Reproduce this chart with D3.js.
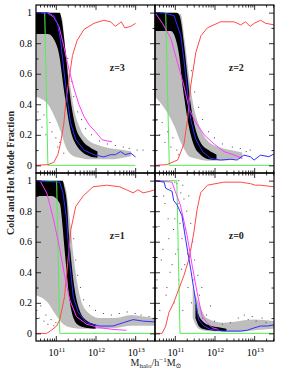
<!DOCTYPE html>
<html>
<head>
<meta charset="utf-8">
<script src="https://cdn.jsdelivr.net/npm/d3@7"></script>
<style>
  body { margin: 0; background: #fff; }
  text { font-family: "Liberation Serif", "DejaVu Serif", serif; }
</style>
</head>
<body>
<div id="chart"></div>
<script>
// values are [log10 Mhalo, fraction]
const redZ3 = [[10.5,0],[10.8,0.005],[10.95,0.02],[11.05,0.07],[11.12,0.145],[11.2,0.27],[11.25,0.41],[11.33,0.56],[11.42,0.72],[11.54,0.82],[11.71,0.89],[11.96,0.93],[12.21,0.95],[12.38,0.94],[12.5,0.91],[12.65,0.94],[12.74,0.9],[12.89,0.91],[13.01,0.93]];
const blueZ3 = [[10.5,1],[10.8,1],[10.95,0.98],[11.04,0.93],[11.12,0.82],[11.2,0.63],[11.29,0.43],[11.37,0.28],[11.5,0.17],[11.71,0.1],[11.96,0.07],[12.21,0.055],[12.38,0.07],[12.5,0.07],[12.63,0.09],[12.75,0.07],[12.89,0.08],[13.01,0.055]];
const magZ3 = [[10.5,1],[10.78,1],[10.95,0.97],[11.08,0.91],[11.2,0.78],[11.33,0.63],[11.46,0.5],[11.58,0.4],[11.71,0.32],[11.84,0.265],[12.0,0.22],[12.17,0.167],[12.29,0.16],[12.42,0.155]];
const greenZ3 = [[10.5,1],[10.72,1],[10.8,0],[13.0,0]];
const coreZ3 = [[10.5,0.86,1],[10.8,0.86,1],[11.0,0.8,1],[11.1,0.7,1],[11.15,0.6,0.95],[11.2,0.5,0.85],[11.27,0.38,0.68],[11.33,0.28,0.52],[11.4,0.2,0.38],[11.5,0.14,0.25],[11.65,0.09,0.17],[11.85,0.06,0.12],[12.05,0.05,0.09]];
const spreadZ3 = [[10.5,0.45,1],[10.8,0.4,1],[11.0,0.3,1],[11.15,0.2,0.97],[11.25,0.12,0.75],[11.35,0.08,0.55],[11.45,0.06,0.38],[11.6,0.05,0.25],[11.8,0.04,0.17],[12.1,0.04,0.13],[12.4,0.04,0.11],[12.7,0.05,0.1],[12.9,0.06,0.09]];
const dotsZ3 = [[10.55,0.35],[10.6,0.3],[10.65,0.25],[10.7,0.33],[10.75,0.2],[10.85,0.28],[10.9,0.22],[11.0,0.18],[11.05,0.12],[11.1,0.15],[11.2,0.08],[11.3,0.7],[11.4,0.55],[11.45,0.45],[11.55,0.35],[11.65,0.3],[11.75,0.24],[11.9,0.2],[12.1,0.16],[12.3,0.14],[12.5,0.13],[12.7,0.12],[12.85,0.11],[13.05,0.1],[13.2,0.1]];

const redZ2 = [[10.5,0],[10.8,0.005],[11.07,0.035],[11.23,0.14],[11.32,0.3],[11.4,0.52],[11.53,0.74],[11.66,0.85],[11.82,0.9],[12.15,0.94],[12.49,0.94],[12.66,0.92],[12.78,0.94],[12.9,0.91],[13.0,0.93],[13.16,0.95],[13.29,0.93],[13.5,0.92]];
const blueZ2 = [[10.5,1],[10.7,1],[10.98,0.98],[11.15,0.85],[11.23,0.69],[11.32,0.48],[11.4,0.3],[11.53,0.17],[11.7,0.09],[11.9,0.046],[12.15,0.035],[12.4,0.04],[12.57,0.035],[12.74,0.067],[12.9,0.057],[13.0,0.035],[13.16,0.067],[13.37,0.057],[13.5,0.075]];
const magZ2 = [[10.5,1],[10.69,0.93],[10.9,0.83],[11.07,0.67],[11.23,0.52],[11.36,0.37],[11.53,0.28],[11.74,0.2],[11.99,0.14],[12.24,0.09],[12.49,0.068],[12.7,0.046]];
const greenZ2 = [[10.5,1],[10.77,1],[10.86,0],[13.5,0]];
const coreZ2 = [[10.5,0.88,1],[10.9,0.88,1],[11.05,0.8,1],[11.12,0.7,0.98],[11.18,0.55,0.9],[11.25,0.42,0.75],[11.32,0.3,0.58],[11.4,0.2,0.4],[11.5,0.12,0.26],[11.65,0.07,0.15],[11.85,0.04,0.1],[12.05,0.035,0.07]];
const spreadZ2 = [[10.5,0.45,1],[10.8,0.35,1],[11.0,0.25,1],[11.15,0.15,0.99],[11.25,0.1,0.82],[11.35,0.06,0.6],[11.45,0.05,0.42],[11.6,0.04,0.27],[11.8,0.03,0.17],[12.1,0.03,0.12],[12.4,0.035,0.1],[12.7,0.045,0.085]];
const dotsZ2 = [[10.55,0.3],[10.62,0.2],[10.68,0.28],[10.75,0.15],[10.82,0.22],[10.9,0.12],[10.95,0.18],[11.05,0.1],[11.1,0.07],[11.42,0.62],[11.5,0.48],[11.6,0.38],[11.7,0.3],[11.85,0.22],[12.0,0.18],[12.2,0.14],[12.45,0.12],[12.65,0.11],[12.8,0.09],[12.9,0.1]];

const redZ1 = [[10.5,0],[10.77,0],[10.86,0.015],[11.02,0.048],[11.1,0.09],[11.22,0.24],[11.3,0.46],[11.38,0.68],[11.5,0.83],[11.69,0.9],[11.94,0.96],[12.28,0.97],[12.61,0.96],[12.78,0.94],[12.95,0.92],[13.07,0.94],[13.2,0.92],[13.37,0.93],[13.5,0.94]];
const blueZ1 = [[10.5,1],[11.1,0.99],[11.18,0.92],[11.27,0.75],[11.35,0.46],[11.44,0.24],[11.56,0.14],[11.77,0.07],[12.11,0.048],[12.44,0.048],[12.7,0.07],[12.95,0.09],[13.2,0.08],[13.5,0.075]];
const magZ1 = [[10.5,1],[10.6,1],[10.77,0.92],[10.94,0.75],[11.1,0.55],[11.22,0.38],[11.35,0.22],[11.52,0.11],[11.77,0.06],[12.11,0.037],[12.44,0.026],[12.78,0.02]];
const greenZ1 = [[10.5,1],[11.02,1],[11.1,0],[13.5,0]];
const coreZ1 = [[10.5,0.9,1],[10.9,0.9,1],[11.1,0.85,1],[11.17,0.7,1],[11.22,0.55,0.95],[11.28,0.38,0.85],[11.33,0.25,0.65],[11.4,0.14,0.45],[11.48,0.08,0.28],[11.6,0.05,0.15],[11.8,0.035,0.08],[12.0,0.03,0.06]];
const spreadZ1 = [[10.5,0.25,1],[10.8,0.2,1],[11.0,0.12,1],[11.15,0.07,1],[11.25,0.05,0.95],[11.35,0.04,0.75],[11.45,0.035,0.5],[11.6,0.03,0.25],[11.8,0.03,0.14],[12.1,0.03,0.1],[12.5,0.035,0.1],[12.9,0.05,0.12],[13.2,0.05,0.11],[13.5,0.05,0.1]];
const dotsZ1 = [[10.52,0.15],[10.58,0.1],[10.62,0.18],[10.7,0.08],[10.75,0.12],[10.8,0.06],[10.88,0.09],[10.95,0.05],[11.0,0.07],[11.45,0.62],[11.5,0.48],[11.55,0.38],[11.62,0.3],[11.7,0.22],[11.85,0.18],[12.0,0.15],[12.2,0.13],[12.4,0.12],[12.6,0.13],[12.8,0.14],[13.0,0.13],[13.15,0.12],[13.35,0.11]];

const redZ0 = [[10.5,0],[10.68,0],[10.77,0.048],[10.85,0.136],[10.97,0.2],[11.1,0.29],[11.23,0.38],[11.36,0.49],[11.48,0.66],[11.56,0.81],[11.65,0.92],[11.82,0.97],[12.23,0.99],[12.66,0.99],[12.91,0.98],[13.03,0.97],[13.16,0.97],[13.33,0.965],[13.5,0.96]];
const blueZ0 = [[10.5,1],[10.73,0.99],[10.77,0.95],[10.85,0.94],[10.93,0.93],[10.97,0.87],[11.06,0.84],[11.18,0.77],[11.27,0.62],[11.4,0.42],[11.52,0.22],[11.6,0.09],[11.73,0.048],[11.9,0.026],[12.23,0.015],[12.66,0.015],[12.82,0.02],[12.99,0.035],[13.16,0.048],[13.33,0.048],[13.5,0.055]];
const magZ0 = [[10.5,1],[10.93,0.99],[11.01,0.93],[11.14,0.84],[11.31,0.64],[11.44,0.44],[11.56,0.27],[11.69,0.11],[11.82,0.07],[11.94,0.037],[12.1,0.026]];
const greenZ0 = [[10.5,1],[11.05,1],[11.13,0],[13.5,0]];
const coreZ0 = [[11.52,0.1,0.2],[11.6,0.05,0.12],[11.7,0.03,0.08],[11.9,0.02,0.05],[12.1,0.015,0.04],[12.3,0.015,0.03]];
const spreadZ0 = [[11.45,0.1,0.3],[11.6,0.03,0.2],[11.8,0.015,0.1],[12.2,0.01,0.07],[12.6,0.01,0.08],[13.0,0.02,0.09],[13.5,0.03,0.08]];
const dotsZ0 = [[10.55,0.35],[10.6,0.7],[10.62,0.15],[10.66,0.48],[10.7,0.55],[10.72,0.9],[10.75,0.85],[10.78,0.25],[10.8,0.3],[10.83,0.75],[10.85,0.62],[10.88,0.4],[10.9,0.95],[10.93,0.45],[10.95,1.0],[10.97,0.68],[10.98,0.2],[11.0,0.75],[11.0,0.99],[11.02,0.52],[11.05,0.98],[11.08,0.55],[11.08,0.85],[11.1,0.35],[11.1,1.0],[11.13,0.72],[11.15,0.92],[11.17,0.42],[11.18,0.62],[11.2,0.15],[11.2,0.97],[11.23,0.88],[11.25,0.45],[11.27,0.68],[11.3,0.8],[11.32,0.52],[11.33,0.3],[11.35,0.9],[11.38,0.55],[11.4,0.72],[11.42,0.2],[11.45,0.6],[11.48,0.35],[11.5,0.48],[11.55,0.15],[11.58,0.38],[11.62,0.25],[11.68,0.3],[11.7,0.1],[11.8,0.12],[11.9,0.18],[12.0,0.08],[12.2,0.06],[12.4,0.07],[12.6,0.1],[12.75,0.12],[12.85,0.09],[12.95,0.11],[13.05,0.08],[13.2,0.1],[13.3,0.07]];

const yTickLabels = ['0', '0.2', '0.4', '0.6', '0.8', '1'];
const xTickLabels = ['11', '12', '13'];

const panels = [
  { z: 'z=3', col: 0, row: 0, red: redZ3, blue: blueZ3, mag: magZ3, green: greenZ3, core: coreZ3, spread: spreadZ3, dots: dotsZ3 },
  { z: 'z=2', col: 1, row: 0, red: redZ2, blue: blueZ2, mag: magZ2, green: greenZ2, core: coreZ2, spread: spreadZ2, dots: dotsZ2 },
  { z: 'z=1', col: 0, row: 1, red: redZ1, blue: blueZ1, mag: magZ1, green: greenZ1, core: coreZ1, spread: spreadZ1, dots: dotsZ1 },
  { z: 'z=0', col: 1, row: 1, red: redZ0, blue: blueZ0, mag: magZ0, green: greenZ0, core: coreZ0, spread: spreadZ0, dots: dotsZ0 }
];

const marginLeft = 36, marginTop = 5;
const pw = 119, ph = 168;

const x = d3.scaleLog().domain([Math.pow(10, 10.5), Math.pow(10, 13.5)]).range([0, pw]);
const y = d3.scaleLinear().domain([-0.05, 1.05]).range([ph, 0]);
const X = lm => x(Math.pow(10, lm));

const svg = d3.select('#chart').append('svg')
  .attr('width', 295)
  .attr('height', 376);

const line = d3.line().x(d => X(d[0])).y(d => y(d[1]));
const band = d3.area().x(d => X(d[0])).y0(d => y(d[1])).y1(d => y(d[2])).curve(d3.curveMonotoneX);

const allTicks = x.ticks();
const majorX = allTicks.filter(v => Math.abs(Math.log10(v) - Math.round(Math.log10(v))) < 1e-6);
const minorX = allTicks.filter(v => majorX.indexOf(v) < 0);
const majorY = d3.range(0, 1.01, 0.2);
const minorY = d3.range(0.1, 1, 0.2);

panels.forEach((p, i) => {
  const g = svg.append('g')
    .attr('transform', `translate(${marginLeft + p.col * pw}, ${marginTop + p.row * ph})`);

  g.append('clipPath').attr('id', 'clip' + i)
    .append('rect').attr('width', pw).attr('height', ph);

  const plot = g.append('g').attr('clip-path', `url(#clip${i})`);

  plot.append('path').datum(p.spread)
    .attr('fill', '#000').attr('fill-opacity', 0.26)
    .attr('d', band);
  plot.append('path').datum(p.core)
    .attr('fill', '#000')
    .attr('d', band);
  plot.selectAll('rect.dot').data(p.dots).enter().append('rect')
    .attr('class', 'dot')
    .attr('x', d => X(d[0]) - 0.5)
    .attr('y', d => y(d[1]) - 0.5)
    .attr('width', 1).attr('height', 1)
    .attr('fill', '#444');

  [[p.green, '#55ee55'], [p.red, '#ff4a4a'], [p.mag, '#ff3cff'], [p.blue, '#3030ff']].forEach(s => {
    plot.append('path').datum(s[0])
      .attr('fill', 'none')
      .attr('stroke', s[1])
      .attr('stroke-width', 1)
      .attr('d', line);
  });

  // frame + inward ticks on all sides
  const axes = [
    [d3.axisBottom(x), `translate(0, ${ph})`],
    [d3.axisTop(x), 'translate(0, 0)']
  ];
  axes.forEach(a => {
    g.append('g').attr('transform', a[1])
      .call(a[0].tickValues(majorX).tickSize(-5).tickFormat(''))
      .call(s => s.select('.domain').remove());
    g.append('g').attr('transform', a[1])
      .call(a[0].tickValues(minorX).tickSize(-2.5).tickFormat(''))
      .call(s => s.select('.domain').remove());
  });
  g.append('g')
    .call(d3.axisLeft(y).tickValues(majorY).tickSize(-5).tickFormat(''))
    .call(s => s.select('.domain').remove());
  g.append('g')
    .call(d3.axisLeft(y).tickValues(minorY).tickSize(-2.5).tickFormat(''))
    .call(s => s.select('.domain').remove());
  g.append('g').attr('transform', `translate(${pw}, 0)`)
    .call(d3.axisRight(y).tickValues(majorY).tickSize(-5).tickFormat(''))
    .call(s => s.select('.domain').remove());
  g.append('g').attr('transform', `translate(${pw}, 0)`)
    .call(d3.axisRight(y).tickValues(minorY).tickSize(-2.5).tickFormat(''))
    .call(s => s.select('.domain').remove());
  g.selectAll('.tick line').attr('stroke', '#000').attr('stroke-width', 0.8);

  g.append('rect')
    .attr('width', pw).attr('height', ph)
    .attr('fill', 'none').attr('stroke', '#000').attr('stroke-width', 1.2);

  if (p.col === 0) {
    g.selectAll('text.ylab').data(yTickLabels).enter().append('text')
      .attr('class', 'ylab')
      .attr('x', -4)
      .attr('y', (d, k) => y(majorY[k]) + 3.5)
      .attr('text-anchor', 'end')
      .attr('font-size', 10)
      .text(d => d);
  }
  if (p.row === 1) {
    const lab = g.selectAll('text.xlab').data(xTickLabels).enter().append('text')
      .attr('class', 'xlab')
      .attr('x', (d, k) => x(majorX[k]) + 1)
      .attr('y', ph + 15)
      .attr('text-anchor', 'middle')
      .attr('font-size', 10);
    lab.append('tspan').text('10');
    lab.append('tspan').attr('dy', -4).attr('font-size', 7).text(d => d);
  }

  g.append('text')
    .attr('x', X(12.55))
    .attr('y', y(0.62))
    .attr('text-anchor', 'middle')
    .attr('font-size', 10)
    .attr('font-weight', 'bold')
    .attr('fill', '#222')
    .text(p.z);
});

svg.append('text')
  .attr('transform', `translate(14, ${marginTop + ph}) rotate(-90)`)
  .attr('text-anchor', 'middle')
  .attr('font-size', 10)
  .attr('font-weight', 'bold')
  .attr('fill', '#222')
  .text('Cold and Hot Mode Fraction');

const xl = svg.append('text')
  .attr('x', marginLeft + pw + 1)
  .attr('y', 366)
  .attr('text-anchor', 'middle')
  .attr('font-size', 10)
  .attr('fill', '#222');
xl.append('tspan').text('M');
xl.append('tspan').attr('dy', 2).attr('font-size', 7).text('halo');
xl.append('tspan').attr('dy', -2).text('/h');
xl.append('tspan').attr('dy', -4).attr('font-size', 7).text('−1');
xl.append('tspan').attr('dy', 4).text('M');
xl.append('tspan').attr('dy', 2).attr('font-size', 7).text('⊙');
</script>
</body>
</html>
